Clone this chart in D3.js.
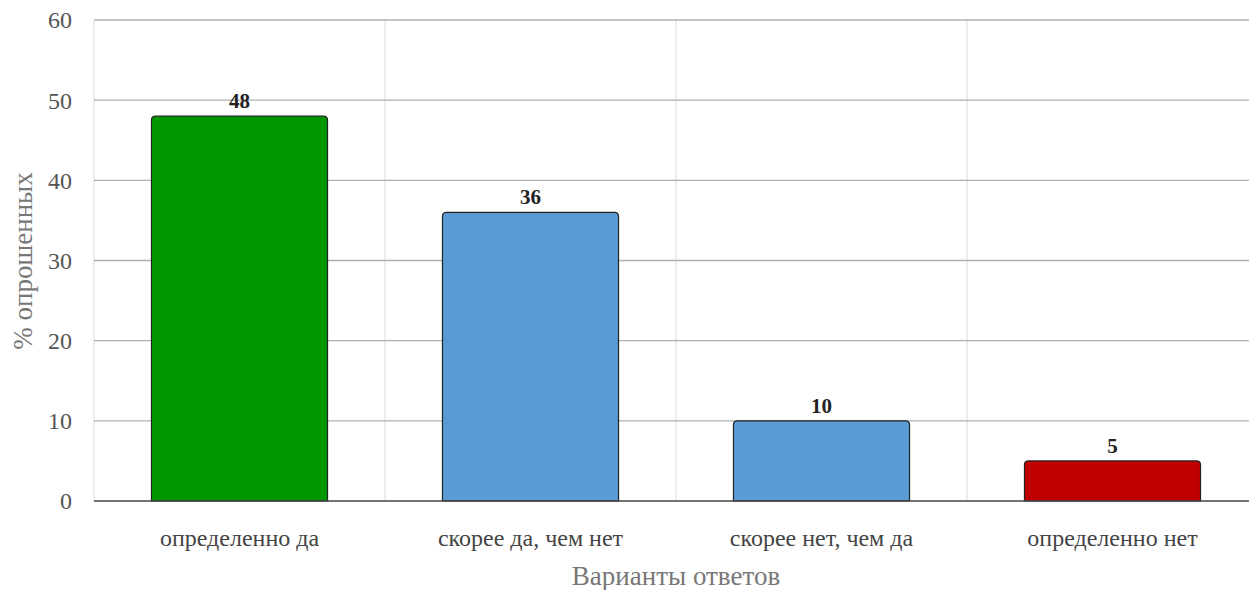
<!DOCTYPE html>
<html><head><meta charset="utf-8">
<script src="https://cdn.jsdelivr.net/npm/d3@7"></script>
<style>body{margin:0;background:#fff}svg{display:block}</style>
</head><body>
<svg id="c" width="1249" height="590"></svg>
<script>
const categories = ["определенно да", "скорее да, чем нет", "скорее нет, чем да", "определенно нет"];
const values = [48, 36, 10, 5];
const colors = ["#009600", "#5b9bd5", "#5b9bd5", "#c00000"];
const yTicks = [0, 10, 20, 30, 40, 50, 60];

const svg = d3.select("#c");
const pLeft = 94, pRight = 1258, pTop = 20, pBottom = 501;
const font = "'Liberation Serif', 'Times New Roman', serif";

const x = d3.scaleBand().domain(categories).range([pLeft, pRight]).paddingInner(0).paddingOuter(0);
const y = d3.scaleLinear().domain([0, 60]).range([pBottom, pTop]);
const barW = x.bandwidth() * 0.605;

svg.append("g").selectAll("line").data(categories.slice(1)).join("line")
  .attr("x1", d => x(d)).attr("x2", d => x(d))
  .attr("y1", pTop).attr("y2", pBottom)
  .attr("stroke", "#dcdcdc").attr("stroke-width", 1);
svg.append("line").attr("x1", pLeft).attr("x2", pLeft).attr("y1", pTop).attr("y2", pBottom)
  .attr("stroke", "#dcdcdc").attr("stroke-width", 1);

svg.append("g").selectAll("line").data(yTicks.filter(t => t > 0)).join("line")
  .attr("x1", pLeft).attr("x2", pRight)
  .attr("y1", d => y(d)).attr("y2", d => y(d))
  .attr("stroke", "#b0b0b0").attr("stroke-width", 1.3);

svg.append("g").selectAll("text").data(yTicks).join("text")
  .attr("x", 72).attr("y", d => y(d)).attr("dy", "0.35em")
  .attr("text-anchor", "end")
  .attr("font-family", font).attr("font-size", 24).attr("fill", "#555")
  .text(d => d);

function barPath(x0, w, yT, yB, r) {
  r = Math.min(r, (yB - yT));
  return `M${x0},${yB}V${yT + r}Q${x0},${yT} ${x0 + r},${yT}H${x0 + w - r}Q${x0 + w},${yT} ${x0 + w},${yT + r}V${yB}Z`;
}
svg.append("g").selectAll("path").data(categories).join("path")
  .attr("d", (d, i) => barPath(x(d) + (x.bandwidth() - barW) / 2, barW, y(values[i]), y(0), 4))
  .attr("fill", (d, i) => colors[i])
  .attr("stroke", "#222").attr("stroke-width", 1.2);

svg.append("line").attr("x1", pLeft).attr("x2", pRight).attr("y1", y(0)).attr("y2", y(0))
  .attr("stroke", "#444").attr("stroke-width", 1.5);

svg.append("g").selectAll("text").data(categories).join("text")
  .attr("x", d => x(d) + x.bandwidth() / 2)
  .attr("y", (d, i) => y(values[i]) - 8)
  .attr("text-anchor", "middle")
  .attr("font-family", font).attr("font-size", 21).attr("font-weight", "bold").attr("fill", "#222")
  .text((d, i) => values[i]);

svg.append("g").selectAll("text").data(categories).join("text")
  .attr("x", d => x(d) + x.bandwidth() / 2)
  .attr("y", 546)
  .attr("text-anchor", "middle")
  .attr("font-family", font).attr("font-size", 24).attr("fill", "#444")
  .text(d => d);

svg.append("text").attr("x", 676).attr("y", 585).attr("text-anchor", "middle")
  .attr("font-family", font).attr("font-size", 27).attr("fill", "#777")
  .text("Варианты ответов");
svg.append("text").attr("transform", "translate(32,261) rotate(-90)").attr("text-anchor", "middle")
  .attr("font-family", font).attr("font-size", 27).attr("fill", "#777")
  .text("% опрошенных");
</script>
</body></html>
